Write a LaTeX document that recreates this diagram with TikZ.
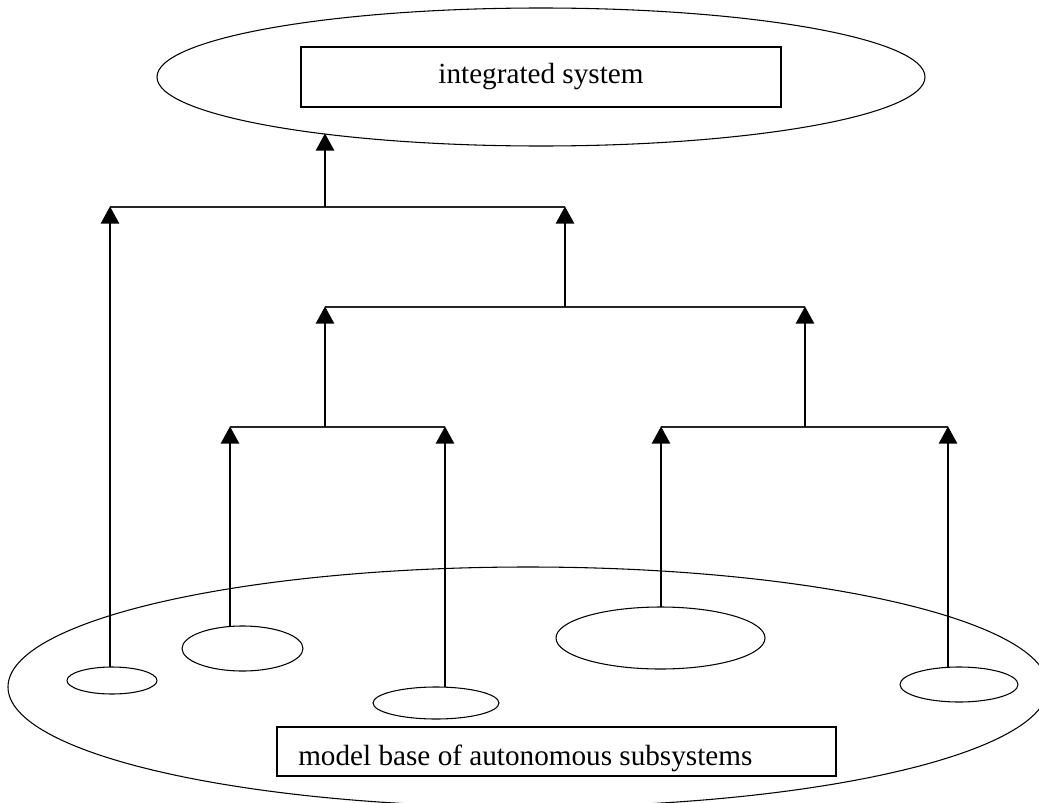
\documentclass[tikz,border=0pt]{standalone}
\usepackage{fontspec}
\setmainfont{Liberation Serif}
\usetikzlibrary{shapes.geometric,arrows.meta}
\tikzset{
  outline/.style={draw=black, line width=0.8pt},
  oval/.style 2 args={ellipse, outline, inner sep=0pt, minimum width=#1*1.5pt, minimum height=#2*1.5pt},
  labelbox/.style={rectangle, outline, inner sep=0pt},
  labeltext/.style={font=\fontsize{21.9}{26}\selectfont, inner sep=0pt},
  bar/.style={draw=black!85, line width=0.9pt},
  up/.style={draw=black, line width=2.2pt, -{Triangle[width=13.5pt,length=13pt]}, shorten >=-0.5pt},
}
\begin{document}
\begin{tikzpicture}[x=0.75pt, y=-0.75pt]
\useasboundingbox (0,0) rectangle (1039,803);
\clip (0,0) rectangle (1039,803);
\fill[white] (0,0) rectangle (1039,803);

% top ellipse and box
\node[oval={384}{69}] (T) at (541,77) {};
\node[labelbox, minimum width=360pt, minimum height=45pt] (I) at (541,77) {};
\node[labeltext] (It) at (I.center) {integrated system};

% big bottom ellipse
\node[oval={520}{120}] (B) at (528,687) {};

% small ellipses
\node[oval={45}{13.5}] (e1) at (112,680.5) {};
\node[oval={60.5}{22.5}] (e2) at (242.5,648.5) {};
\node[oval={63}{16}] (e3) at (436,703) {};
\node[oval={104.5}{31}] (e4) at (660.5,638) {};
\node[oval={59}{17.5}] (e5) at (959,684.5) {};

% bottom box
\node[labelbox, minimum width=419.25pt, minimum height=36.75pt] (M) at (556.5,751.5) {};
\node[labeltext, anchor=base west] (Mt) at (298,765) {model base of autonomous subsystems};

% coordinates
\coordinate (t0) at (325,134);
\coordinate (a1) at (110,207); \coordinate (am) at (325,207); \coordinate (a2) at (565,207);
\coordinate (b1) at (325,307); \coordinate (bm) at (565,307); \coordinate (b2) at (805,307);
\coordinate (c1) at (230,427); \coordinate (cm) at (325,427); \coordinate (c2) at (445,427);
\coordinate (d1) at (661,427); \coordinate (dm) at (805,427); \coordinate (d2) at (948,427);
\coordinate (s1) at (110,667); \coordinate (s2) at (230,626); \coordinate (s3) at (445,687);
\coordinate (s4) at (661,607); \coordinate (s5) at (948,667);

% bars
\draw[bar] (a1) -- (a2);
\draw[bar] (b1) -- (b2);
\draw[bar] (c1) -- (c2);
\draw[bar] (d1) -- (d2);

% arrows
\draw[up] (am) -- (t0);
\draw[up] (bm) -- (a2);
\draw[up] (s1) -- (a1);
\draw[up] (cm) -- (b1);
\draw[up] (dm) -- (b2);
\draw[up] (s2) -- (c1);
\draw[up] (s3) -- (c2);
\draw[up] (s4) -- (d1);
\draw[up] (s5) -- (d2);
\end{tikzpicture}
\end{document}
